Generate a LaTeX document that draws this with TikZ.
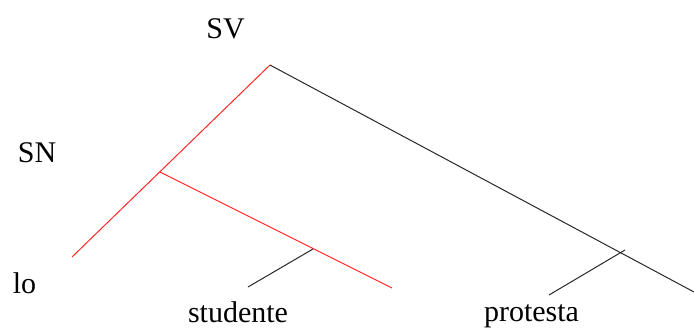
\documentclass[tikz,border=0pt]{standalone}
\usepackage{fontspec}
\setmainfont{Liberation Serif}
\begin{document}
\begin{tikzpicture}[x=1pt,y=-1pt,
  lbl/.style={anchor=base,inner sep=0pt,font=\fontsize{30}{36}\selectfont},
  redline/.style={draw={rgb,255:red,255;green,40;blue,40},line width=1pt},
  blkline/.style={draw={rgb,255:red,40;green,40;blue,40},line width=1pt}]
\useasboundingbox (0,0) rectangle (694,329);
\node[lbl] (sv) at (225.5,39) {SV};
\node[lbl] (sn) at (37,162) {SN};
\node[lbl] (lo) at (24.5,293) {lo};
\node[lbl] (studente) at (238,322) {studente};
\node[lbl] (protesta) at (531.5,321) {protesta};
\coordinate (top) at (270,65);
\coordinate (snj) at (160,172);
\coordinate (loend) at (72,257);
\coordinate (nend) at (392,288);
\coordinate (nj) at (313,249);
\coordinate (studend) at (248,287);
\coordinate (vend) at (694,292);
\coordinate (vj) at (625,250);
\coordinate (protend) at (549,295);
\draw[redline] (top) -- (loend);
\draw[redline] (snj) -- (nend);
\draw[blkline] (top) -- (vend);
\draw[blkline] (nj) -- (studend);
\draw[blkline] (vj) -- (protend);
\end{tikzpicture}
\end{document}
